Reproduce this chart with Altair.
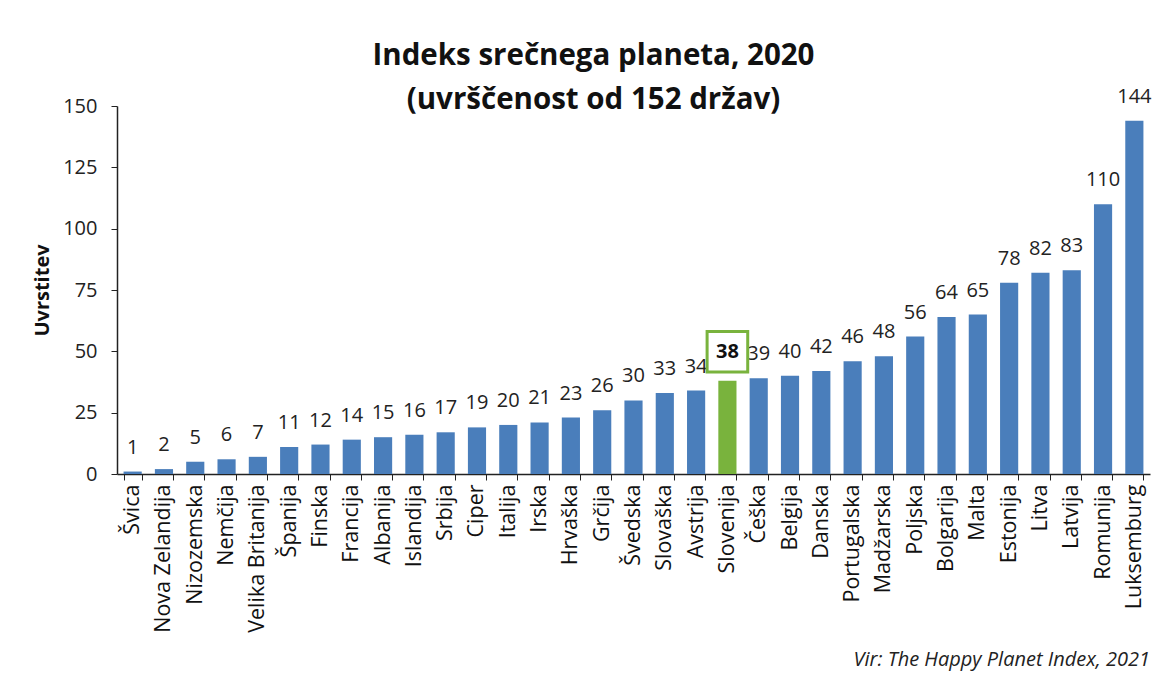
import altair as alt
import pandas as pd

countries = ["Švica", "Nova Zelandija", "Nizozemska", "Nemčija", "Velika Britanija",
             "Španija", "Finska", "Francija", "Albanija", "Islandija", "Srbija", "Ciper",
             "Italija", "Irska", "Hrvaška", "Grčija", "Švedska", "Slovaška", "Avstrija",
             "Slovenija", "Češka", "Belgija", "Danska", "Portugalska", "Madžarska",
             "Poljska", "Bolgarija", "Malta", "Estonija", "Litva", "Latvija", "Romunija",
             "Luksemburg"]
ranks = [1, 2, 5, 6, 7, 11, 12, 14, 15, 16, 17, 19, 20, 21, 23, 26, 30, 33, 34, 38,
         39, 40, 42, 46, 48, 56, 64, 65, 78, 82, 83, 110, 144]
highlight = "Slovenija"

df = pd.DataFrame({"drzava": countries, "uvrstitev": ranks})
df["hl"] = df["drzava"] == highlight

FONT = "Open Sans"
W, H = 1033, 368

x = alt.X("drzava:N", sort=countries, title=None,
          scale=alt.Scale(paddingInner=0.42, paddingOuter=0.21),
          axis=alt.Axis(labelAngle=-90, labelFont=FONT, labelFontSize=21.5,
                        labelColor="#111", domainColor="#222", tickColor="#222",
                        tickSize=6, tickBand="extent", labelPadding=4,
                        domainWidth=1.5))
y = alt.Y("uvrstitev:Q", title="Uvrstitev",
          scale=alt.Scale(domain=[0, 150], nice=False),
          axis=alt.Axis(values=[0, 25, 50, 75, 100, 125, 150], grid=False,
                        labelFont=FONT, labelFontSize=20, labelColor="#222",
                        titleFont=FONT, titleFontSize=20, titleFontWeight="bold",
                        titleColor="#111", domainColor="#222", tickColor="#222",
                        tickSize=6, titlePadding=10, labelPadding=14, domainWidth=1.5))

base = alt.Chart(df)

bars = base.mark_bar().encode(
    x=x, y=y,
    color=alt.condition("datum.hl", alt.value("#79b33d"), alt.value("#4a7ebb"))
)

labels = base.transform_filter("!datum.hl").mark_text(
    dy=-24, font=FONT, fontSize=20, color="#222"
).encode(x=x, y=y, text="uvrstitev:Q")

hl_label = base.transform_filter("datum.hl").mark_text(
    dy=-29, font=FONT, fontSize=20, fontWeight="bold", color="#111"
).encode(x=x, y=y, text="uvrstitev:Q")

hl_box = base.transform_filter("datum.hl").mark_point(
    shape="square", size=1650, filled=False, stroke="#79b33d", strokeWidth=3,
    yOffset=-29, opacity=1
).encode(x=x, y=y)

source = alt.Chart(pd.DataFrame({"t": ["Vir: The Happy Planet Index, 2021"]})).mark_text(
    align="right", baseline="alphabetic", font=FONT, fontSize=20, fontStyle="italic",
    color="#222"
).encode(x=alt.value(W), y=alt.value(560), text="t:N")

chart = alt.layer(bars, labels, hl_box, hl_label, source).properties(
    width=W, height=H,
    background="white",
    title=alt.TitleParams(
        ["Indeks srečnega planeta, 2020", "(uvrščenost od 152 držav)"],
        font=FONT, fontSize=29.5, fontWeight="bold", color="#111",
        anchor="middle", dx=-40, offset=-29, lineHeight=44
    ),
    padding={"left": 109, "top": 98, "right": 12, "bottom": 204},
    autosize=alt.AutoSizeParams(type="none")
).configure_view(stroke=None)

chart.save("out.html", embed_options={"renderer": "svg", "actions": False})
